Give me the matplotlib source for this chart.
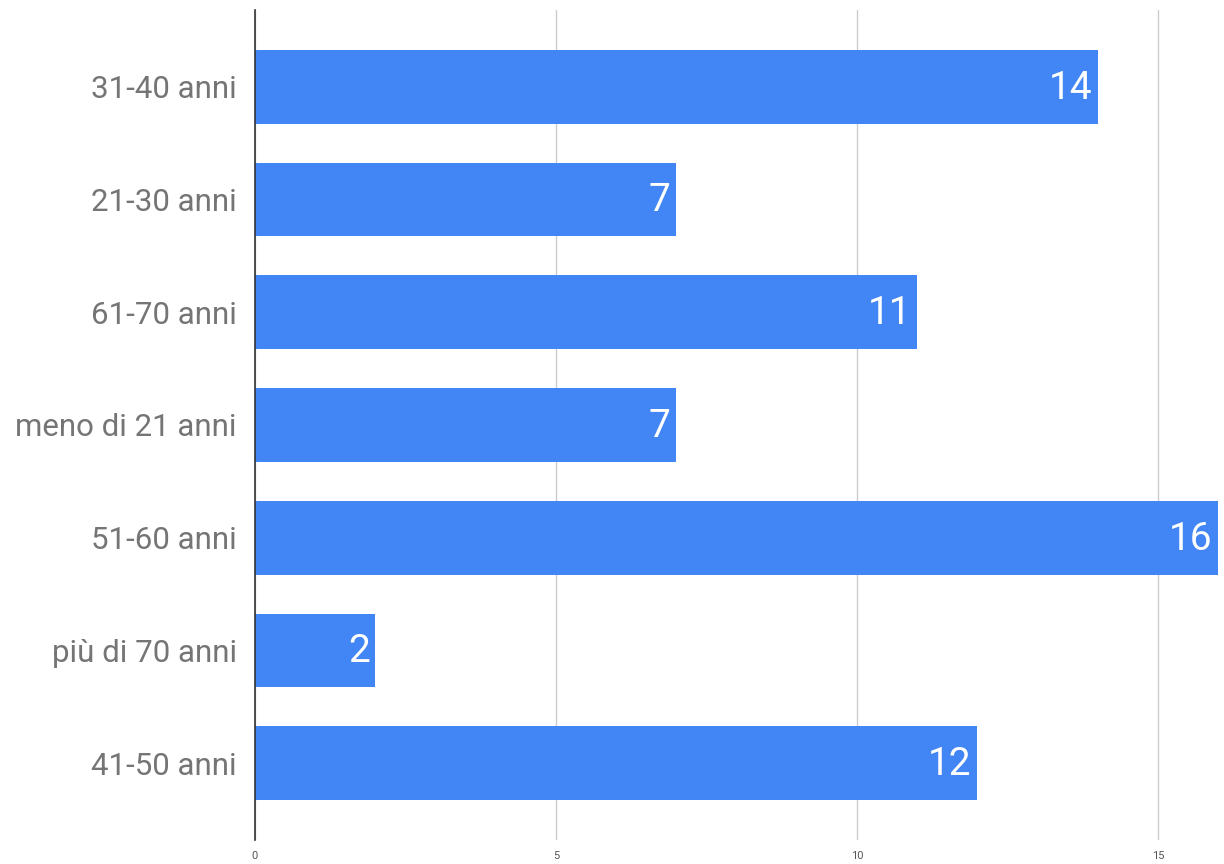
import matplotlib.pyplot as plt

plt.rcParams['font.family'] = ['Roboto', 'DejaVu Sans']

categories = ["31-40 anni", "21-30 anni", "61-70 anni", "meno di 21 anni",
              "51-60 anni", "più di 70 anni", "41-50 anni"]
values = [14, 7, 11, 7, 16, 2, 12]

fig = plt.figure(figsize=(12.24, 8.64), dpi=100)
ax = fig.add_axes([255 / 1224, 24 / 864, (1218 - 255) / 1224, 830 / 864])

y = list(range(len(categories)))
bars = ax.barh(y, values, height=0.655, color="#4285F4", zorder=3)

# numeri bianchi dentro la barra
for bar, v in zip(bars, values):
    ax.annotate(str(v), (bar.get_width(), bar.get_y() + bar.get_height() / 2),
                xytext=(-4, -1), textcoords="offset points",
                ha="right", va="center", color="white", fontsize=28, zorder=4)

ax.set_xlim(0, 16)
ax.set_ylim(len(categories) - 1 + 0.68, -0.68)
ax.set_yticks(y)
ax.set_yticklabels(categories, fontsize=22.5, color="#757575")
ax.set_xticks([0, 5, 10, 15])
ax.tick_params(axis="x", labelsize=8, colors="#555555", length=0, pad=8)
ax.tick_params(axis="y", length=0, pad=13)

ax.grid(axis="x", color="#cccccc", linewidth=1, zorder=0)
for s in ["top", "right", "bottom"]:
    ax.spines[s].set_visible(False)
ax.spines["left"].set_color("#333333")
ax.spines["left"].set_linewidth(1.2)
ax.spines["left"].set_zorder(5)

fig.savefig("out.png", dpi=100)
